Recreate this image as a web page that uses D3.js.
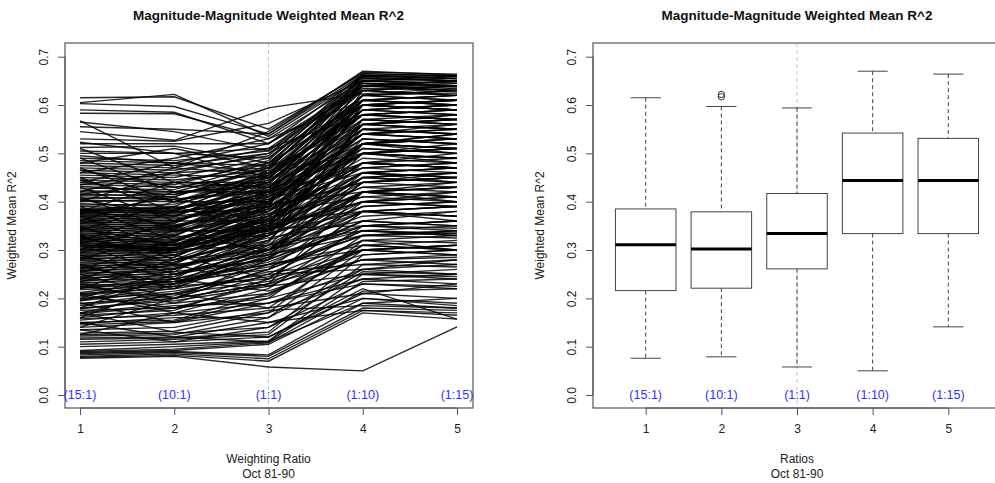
<!DOCTYPE html>
<html>
<head>
<meta charset="utf-8">
<script src="https://cdn.jsdelivr.net/npm/d3@7"></script>
<style>
  body { margin: 0; background: #fff; }
  svg { display: block; font-family: "Liberation Sans", Arial, sans-serif; }
</style>
</head>
<body>
<svg id="chart" width="995" height="483"></svg>
<script>
// ratio labels and tick values
var ratioTicks = [1, 2, 3, 4, 5];
var ratioLabels = ["(15:1)", "(10:1)", "(1:1)", "(1:10)", "(1:15)"];
var yTicks = [0, 0.1, 0.2, 0.3, 0.4, 0.5, 0.6, 0.7];

// weighted mean R^2 per station, one row = values at ratio 1..5
var bottomLines = [
  [0.076,0.080,0.058,0.050,0.141],
  [0.078,0.082,0.070,0.170,0.157],
  [0.080,0.085,0.075,0.175,0.170],
  [0.083,0.088,0.080,0.180,0.175],
  [0.086,0.090,0.083,0.190,0.200],
  [0.088,0.092,0.105,0.200,0.185],
  [0.090,0.095,0.108,0.215,0.220],
  [0.092,0.100,0.110,0.235,0.240],
  [0.100,0.105,0.112,0.250,0.245],
  [0.105,0.110,0.120,0.220,0.157],
  [0.110,0.115,0.125,0.270,0.265],
  [0.115,0.118,0.130,0.290,0.300],
  [0.118,0.120,0.150,0.175,0.165],
  [0.122,0.125,0.160,0.300,0.310],
  [0.125,0.128,0.140,0.255,0.250],
  [0.128,0.132,0.170,0.320,0.330]
];
var lowerLines = [
  [0.135,0.140,0.175,0.185,0.180],
  [0.140,0.150,0.190,0.240,0.230],
  [0.145,0.152,0.200,0.330,0.340],
  [0.148,0.160,0.160,0.260,0.270],
  [0.150,0.155,0.210,0.300,0.290],
  [0.155,0.170,0.220,0.350,0.360],
  [0.158,0.165,0.180,0.210,0.200],
  [0.160,0.180,0.230,0.280,0.285],
  [0.165,0.175,0.240,0.380,0.370],
  [0.168,0.185,0.190,0.230,0.225],
  [0.170,0.190,0.250,0.340,0.330],
  [0.175,0.180,0.205,0.310,0.320],
  [0.178,0.200,0.260,0.400,0.410],
  [0.180,0.195,0.225,0.250,0.260],
  [0.185,0.205,0.270,0.360,0.350],
  [0.188,0.210,0.235,0.290,0.300],
  [0.190,0.200,0.280,0.420,0.430],
  [0.195,0.215,0.245,0.320,0.315],
  [0.198,0.220,0.290,0.450,0.440],
  [0.200,0.210,0.255,0.270,0.280],
  [0.205,0.225,0.300,0.390,0.400],
  [0.208,0.230,0.265,0.330,0.335],
  [0.210,0.220,0.310,0.480,0.470],
  [0.212,0.235,0.275,0.350,0.345]
];
var midLowLines = [
  [0.218,0.225,0.240,0.300,0.310],
  [0.220,0.240,0.285,0.420,0.410],
  [0.222,0.230,0.320,0.500,0.490],
  [0.225,0.235,0.260,0.330,0.325],
  [0.228,0.230,0.295,0.380,0.390],
  [0.230,0.245,0.330,0.520,0.530],
  [0.233,0.235,0.270,0.310,0.300],
  [0.235,0.250,0.300,0.440,0.450],
  [0.238,0.240,0.340,0.550,0.540],
  [0.240,0.255,0.280,0.350,0.360],
  [0.243,0.245,0.305,0.400,0.390],
  [0.245,0.260,0.345,0.460,0.470],
  [0.248,0.250,0.290,0.330,0.340],
  [0.250,0.262,0.315,0.570,0.560],
  [0.253,0.255,0.350,0.430,0.420],
  [0.255,0.268,0.300,0.370,0.380],
  [0.258,0.260,0.320,0.500,0.510],
  [0.260,0.272,0.355,0.600,0.590],
  [0.263,0.265,0.310,0.340,0.335],
  [0.265,0.275,0.330,0.450,0.460],
  [0.268,0.270,0.360,0.480,0.470],
  [0.270,0.280,0.320,0.390,0.400],
  [0.273,0.275,0.335,0.530,0.520],
  [0.275,0.285,0.365,0.610,0.600],
  [0.278,0.280,0.325,0.360,0.350],
  [0.280,0.290,0.340,0.440,0.450],
  [0.283,0.285,0.370,0.500,0.490],
  [0.285,0.295,0.330,0.420,0.410],
  [0.288,0.290,0.345,0.560,0.570],
  [0.290,0.298,0.375,0.470,0.480],
  [0.293,0.295,0.335,0.380,0.370],
  [0.295,0.300,0.350,0.630,0.620],
  [0.298,0.300,0.380,0.540,0.530],
  [0.300,0.305,0.340,0.410,0.420],
  [0.302,0.300,0.355,0.460,0.450],
  [0.304,0.310,0.385,0.590,0.580],
  [0.306,0.302,0.345,0.350,0.360],
  [0.308,0.312,0.360,0.510,0.500],
  [0.309,0.305,0.390,0.440,0.430],
  [0.310,0.300,0.350,0.520,0.540]
];
var midHighLines = [
  [0.312,0.300,0.340,0.420,0.430],
  [0.314,0.305,0.365,0.480,0.470],
  [0.316,0.303,0.395,0.560,0.550],
  [0.318,0.310,0.350,0.400,0.390],
  [0.320,0.308,0.370,0.520,0.510],
  [0.322,0.315,0.400,0.610,0.620],
  [0.324,0.312,0.355,0.450,0.460],
  [0.326,0.318,0.380,0.490,0.480],
  [0.328,0.315,0.410,0.580,0.570],
  [0.330,0.322,0.360,0.380,0.390],
  [0.332,0.320,0.385,0.540,0.530],
  [0.334,0.328,0.415,0.640,0.630],
  [0.336,0.325,0.365,0.430,0.440],
  [0.338,0.332,0.390,0.500,0.510],
  [0.340,0.330,0.420,0.600,0.590],
  [0.342,0.338,0.370,0.460,0.450],
  [0.344,0.335,0.395,0.550,0.560],
  [0.346,0.342,0.425,0.650,0.640],
  [0.348,0.340,0.375,0.410,0.400],
  [0.350,0.346,0.400,0.520,0.530],
  [0.352,0.344,0.430,0.590,0.600],
  [0.354,0.350,0.380,0.470,0.460],
  [0.356,0.348,0.405,0.540,0.550],
  [0.358,0.355,0.435,0.620,0.610],
  [0.360,0.352,0.385,0.440,0.450],
  [0.362,0.360,0.410,0.510,0.500],
  [0.364,0.356,0.440,0.580,0.590],
  [0.366,0.364,0.390,0.480,0.490],
  [0.368,0.360,0.415,0.560,0.570],
  [0.370,0.368,0.445,0.650,0.645],
  [0.372,0.366,0.395,0.420,0.410],
  [0.374,0.372,0.420,0.530,0.520],
  [0.376,0.370,0.450,0.600,0.610],
  [0.378,0.378,0.400,0.500,0.490],
  [0.379,0.375,0.425,0.570,0.560],
  [0.380,0.382,0.455,0.630,0.640],
  [0.382,0.379,0.405,0.460,0.470],
  [0.383,0.385,0.430,0.550,0.540],
  [0.384,0.380,0.460,0.620,0.630],
  [0.385,0.388,0.410,0.480,0.470]
];
var topLines = [
  [0.390,0.385,0.415,0.520,0.510],
  [0.393,0.395,0.440,0.600,0.590],
  [0.396,0.390,0.465,0.660,0.655],
  [0.400,0.405,0.420,0.470,0.480],
  [0.403,0.400,0.445,0.570,0.580],
  [0.406,0.410,0.470,0.640,0.630],
  [0.410,0.405,0.425,0.500,0.510],
  [0.413,0.415,0.450,0.590,0.600],
  [0.416,0.410,0.475,0.655,0.650],
  [0.420,0.420,0.430,0.540,0.530],
  [0.424,0.415,0.455,0.610,0.620],
  [0.428,0.425,0.480,0.645,0.640],
  [0.432,0.420,0.435,0.520,0.530],
  [0.436,0.430,0.460,0.580,0.570],
  [0.440,0.435,0.485,0.660,0.660],
  [0.445,0.440,0.440,0.560,0.550],
  [0.450,0.445,0.465,0.620,0.625],
  [0.455,0.450,0.490,0.650,0.645],
  [0.460,0.455,0.450,0.600,0.590],
  [0.465,0.460,0.470,0.635,0.630],
  [0.470,0.465,0.495,0.665,0.660],
  [0.475,0.470,0.455,0.580,0.590],
  [0.480,0.475,0.500,0.640,0.650],
  [0.485,0.480,0.475,0.610,0.600],
  [0.490,0.485,0.505,0.655,0.650],
  [0.495,0.480,0.460,0.620,0.630],
  [0.505,0.500,0.510,0.645,0.640],
  [0.512,0.515,0.480,0.600,0.610],
  [0.520,0.520,0.520,0.660,0.655],
  [0.523,0.500,0.490,0.630,0.640],
  [0.530,0.525,0.562,0.650,0.660],
  [0.545,0.527,0.594,0.623,0.635],
  [0.555,0.550,0.540,0.662,0.655],
  [0.565,0.545,0.505,0.640,0.650],
  [0.567,0.470,0.545,0.668,0.664],
  [0.583,0.582,0.530,0.650,0.655],
  [0.590,0.585,0.520,0.640,0.635],
  [0.603,0.597,0.540,0.670,0.662],
  [0.605,0.622,0.535,0.658,0.650],
  [0.615,0.617,0.550,0.665,0.660]
];
// stations whose ranking changes between ratios
var crossLines = [
  [0.140,0.200,0.230,0.420,0.430],
  [0.150,0.120,0.110,0.190,0.180],
  [0.160,0.230,0.280,0.520,0.500],
  [0.170,0.130,0.120,0.210,0.230],
  [0.180,0.250,0.300,0.460,0.470],
  [0.190,0.150,0.170,0.240,0.250],
  [0.200,0.260,0.330,0.560,0.550],
  [0.210,0.170,0.150,0.200,0.190],
  [0.220,0.280,0.350,0.600,0.610],
  [0.230,0.190,0.210,0.280,0.270],
  [0.240,0.300,0.370,0.500,0.520],
  [0.250,0.200,0.230,0.320,0.300],
  [0.260,0.320,0.390,0.620,0.630],
  [0.270,0.220,0.250,0.260,0.250],
  [0.280,0.340,0.400,0.540,0.560],
  [0.290,0.240,0.270,0.300,0.290],
  [0.300,0.360,0.420,0.580,0.570],
  [0.310,0.250,0.280,0.360,0.380],
  [0.320,0.380,0.440,0.610,0.600],
  [0.330,0.270,0.290,0.340,0.330],
  [0.340,0.400,0.460,0.500,0.490],
  [0.350,0.280,0.300,0.420,0.440],
  [0.360,0.420,0.470,0.560,0.580],
  [0.370,0.300,0.310,0.380,0.370],
  [0.380,0.440,0.480,0.640,0.650],
  [0.390,0.320,0.330,0.400,0.410],
  [0.400,0.460,0.500,0.600,0.590],
  [0.410,0.340,0.340,0.460,0.440],
  [0.420,0.470,0.510,0.580,0.590],
  [0.430,0.360,0.360,0.480,0.500],
  [0.440,0.480,0.520,0.630,0.620],
  [0.450,0.380,0.380,0.520,0.510],
  [0.460,0.490,0.530,0.610,0.620],
  [0.470,0.400,0.400,0.540,0.550],
  [0.480,0.510,0.470,0.640,0.640],
  [0.490,0.420,0.420,0.560,0.570],
  [0.500,0.500,0.450,0.620,0.610],
  [0.510,0.440,0.430,0.590,0.600],
  [0.195,0.240,0.215,0.280,0.290],
  [0.225,0.200,0.260,0.340,0.350],
  [0.255,0.290,0.240,0.380,0.360],
  [0.285,0.260,0.310,0.420,0.400],
  [0.315,0.350,0.290,0.440,0.460],
  [0.345,0.310,0.360,0.480,0.470],
  [0.375,0.410,0.350,0.520,0.540],
  [0.405,0.370,0.390,0.500,0.480],
  [0.435,0.460,0.410,0.550,0.540],
  [0.465,0.430,0.440,0.600,0.610],
  [0.125,0.170,0.190,0.260,0.280],
  [0.135,0.110,0.140,0.230,0.220],
  [0.170,0.210,0.180,0.310,0.300],
  [0.205,0.180,0.200,0.250,0.240],
  [0.235,0.270,0.225,0.300,0.310],
  [0.265,0.230,0.285,0.380,0.390],
  [0.295,0.330,0.300,0.350,0.340],
  [0.325,0.290,0.345,0.400,0.420],
  [0.355,0.390,0.340,0.450,0.440],
  [0.385,0.350,0.400,0.530,0.520],
  [0.415,0.440,0.395,0.570,0.560],
  [0.445,0.400,0.450,0.590,0.580]
];

// boxplot summary per ratio
var whiskerLow = [0.076, 0.079, 0.058, 0.050, 0.141];
var boxQ1      = [0.216, 0.221, 0.261, 0.334, 0.334];
var boxMedian  = [0.311, 0.302, 0.334, 0.444, 0.444];
var boxQ3      = [0.385, 0.379, 0.417, 0.542, 0.531];
var whiskerHigh = [0.615, 0.597, 0.594, 0.670, 0.664];
var outlierRatio = [2, 2];
var outlierValue = [0.622, 0.617];

var svg = d3.select("#chart");
var textCol = "#222";
var boxCol = "#555";

var y = d3.scaleLinear().domain([0, 0.7]).range([395, 56.7]);
var plotTop = 43, plotBottom = 408;

function frame(x, left, right, title, xlab) {
  var g = svg.append("g");
  // dashed reference line at 1:1
  g.append("line")
    .attr("x1", x(3)).attr("x2", x(3))
    .attr("y1", plotTop).attr("y2", plotBottom)
    .attr("stroke", "#c8c8c8").attr("stroke-dasharray", "4,3");

  g.append("rect")
    .attr("x", left).attr("y", plotTop)
    .attr("width", right - left).attr("height", plotBottom - plotTop)
    .attr("fill", "none").attr("stroke", boxCol).attr("stroke-width", 1.2);

  var ya = g.append("g").attr("transform", "translate(" + left + ",0)")
    .call(d3.axisLeft(y).tickValues(yTicks).tickFormat(d3.format(".1f")).tickSize(7).tickPadding(0));
  ya.select(".domain").attr("stroke", boxCol).attr("d", "M0," + y(0) + "V" + y(0.7));
  ya.selectAll(".tick line").attr("stroke", boxCol);
  ya.selectAll(".tick text")
    .attr("x", null).attr("dy", null)
    .attr("transform", "translate(-17,0) rotate(-90)")
    .attr("text-anchor", "middle")
    .attr("font-size", 12).attr("fill", textCol);

  var xa = g.append("g").attr("transform", "translate(0," + plotBottom + ")")
    .call(d3.axisBottom(x).tickValues(ratioTicks).tickFormat(d3.format("d")).tickSize(7).tickPadding(9));
  xa.select(".domain").attr("stroke", boxCol).attr("d", "M" + x(1) + ",0H" + x(5));
  xa.selectAll(".tick line").attr("stroke", boxCol);
  xa.selectAll(".tick text").attr("font-size", 12).attr("fill", textCol);

  svg.append("text").attr("x", x(3)).attr("y", 20)
    .attr("text-anchor", "middle").attr("font-weight", "bold")
    .attr("font-size", 13.5).attr("fill", "#111").text(title);

  svg.append("text").attr("x", x(3)).attr("y", 463)
    .attr("text-anchor", "middle").attr("font-size", 12).attr("fill", textCol).text(xlab);
  svg.append("text").attr("x", x(3)).attr("y", 478)
    .attr("text-anchor", "middle").attr("font-size", 12).attr("fill", textCol).text("Oct 81-90");

  svg.append("text")
    .attr("transform", "translate(" + (left - 49) + "," + ((plotTop + plotBottom) / 2) + ") rotate(-90)")
    .attr("text-anchor", "middle").attr("font-size", 12).attr("fill", textCol)
    .text("Weighted Mean R^2");

  return g;
}

function ratioText(g, x) {
  g.selectAll("text.ratio").data(ratioLabels).enter().append("text")
    .attr("class", "ratio")
    .attr("x", function(d, i) { return x(ratioTicks[i]); })
    .attr("y", y(0)).attr("dy", "0.35em")
    .attr("text-anchor", "middle").attr("font-size", 12.5)
    .attr("fill", "#3030ff").text(function(d) { return d; });
}

// ---- left panel: one line per station
var xL = d3.scaleLinear().domain([1, 5]).range([80, 457]);
var gL = frame(xL, 65, 473, "Magnitude-Magnitude Weighted Mean R^2", "Weighting Ratio");

var allLines = bottomLines.concat(lowerLines, midLowLines, midHighLines, topLines, crossLines);
var line = d3.line()
  .x(function(d, i) { return xL(ratioTicks[i]); })
  .y(function(d) { return y(d); });

gL.append("g").selectAll("path").data(allLines).enter().append("path")
  .attr("d", line).attr("fill", "none")
  .attr("stroke", "#000").attr("stroke-opacity", 0.85).attr("stroke-width", 1.4);
ratioText(gL, xL);

// ---- right panel: boxplots
var xR = d3.scaleLinear().domain([1, 5]).range([645.7, 948.3]);
var gR = frame(xR, 593, 1001, "Magnitude-Magnitude Weighted Mean R^2", "Ratios");
var boxW = (xR(2) - xR(1)) * 0.8;

var boxes = gR.append("g").selectAll("g").data(ratioTicks).enter().append("g");
boxes.each(function(r, i) {
  var b = d3.select(this), cx = xR(r);
  b.append("line").attr("x1", cx).attr("x2", cx)
    .attr("y1", y(whiskerHigh[i])).attr("y2", y(boxQ3[i]))
    .attr("stroke", "#444").attr("stroke-dasharray", "4,3");
  b.append("line").attr("x1", cx).attr("x2", cx)
    .attr("y1", y(boxQ1[i])).attr("y2", y(whiskerLow[i]))
    .attr("stroke", "#444").attr("stroke-dasharray", "4,3");
  [whiskerHigh[i], whiskerLow[i]].forEach(function(v) {
    b.append("line").attr("x1", cx - boxW / 4).attr("x2", cx + boxW / 4)
      .attr("y1", y(v)).attr("y2", y(v)).attr("stroke", "#444");
  });
  b.append("rect").attr("x", cx - boxW / 2).attr("width", boxW)
    .attr("y", y(boxQ3[i])).attr("height", y(boxQ1[i]) - y(boxQ3[i]))
    .attr("fill", "#fff").attr("stroke", "#444");
  b.append("line").attr("x1", cx - boxW / 2).attr("x2", cx + boxW / 2)
    .attr("y1", y(boxMedian[i])).attr("y2", y(boxMedian[i]))
    .attr("stroke", "#000").attr("stroke-width", 3);
});

gR.selectAll("circle.out").data(outlierValue).enter().append("circle")
  .attr("class", "out")
  .attr("cx", function(d, i) { return xR(outlierRatio[i]); })
  .attr("cy", function(d) { return y(d); })
  .attr("r", 3.2).attr("fill", "none").attr("stroke", "#333");
ratioText(gR, xR);
</script>
</body>
</html>
